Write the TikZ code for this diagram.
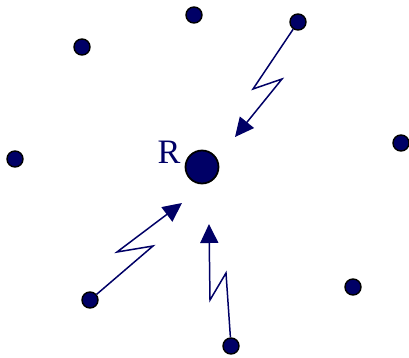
\documentclass[tikz,border=0pt]{standalone}
\usepackage{fontspec}
\usetikzlibrary{arrows.meta}
\newfontfamily\labfont{Liberation Serif}
\definecolor{rnavy}{HTML}{000066}

\begin{document}
\begin{tikzpicture}[
      x=0.02cm, y=-0.02cm,
      site/.style={circle, draw=black, line width=0.8pt, fill=rnavy,
                   minimum size=0.32cm, inner sep=0pt},
      recv/.style={circle, draw=black, line width=1pt, fill=rnavy,
                   minimum size=0.66cm, inner sep=0pt},
      bolt/.style={draw=rnavy, line width=0.85pt,
                   -{Triangle[length=0.38cm, width=0.36cm]}},
    ]
    \useasboundingbox (0,0) rectangle (409,358);

    \node[recv] (r) at (202,167) {};
    \node[text=rnavy, font=\labfont\fontsize{19.5}{23}\selectfont,
          inner sep=0pt] (rlab) at (169,152) {R};

    \node[site] (s1) at (194,15)  {};
    \node[site] (s2) at (298,22)  {};
    \node[site] (s3) at (82,47)   {};
    \node[site] (s4) at (15,159)  {};
    \node[site] (s5) at (401,143) {};
    \node[site] (s6) at (90,300)  {};
    \node[site] (s7) at (353,287) {};
    \node[site] (s8) at (231,346) {};

    % arrow tips near R
    \coordinate (t1) at (235,137);
    \coordinate (t2) at (182,203);
    \coordinate (t3) at (209,224);

    \draw[bolt] (s2) -- (253,89) -- (282,79) -- (t1);
    \draw[bolt] (s6) -- (153,246) -- (117,252) -- (t2);
    \draw[bolt] (s8) -- (226,273) -- (210,300) -- (t3);
\end{tikzpicture}
\end{document}
